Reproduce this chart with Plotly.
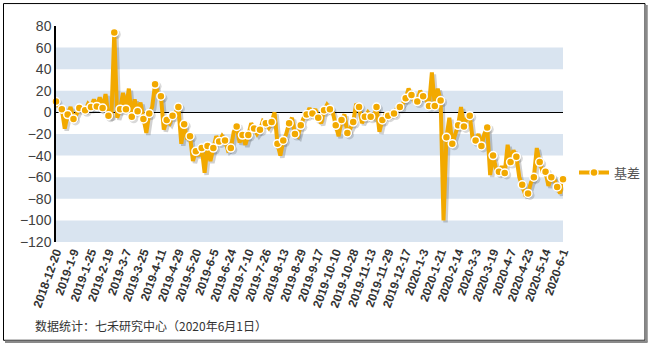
import plotly.graph_objects as go

# 基差 sampled every other trading day (2018-12-20 .. 2020-6-1);
# every second sample carries a marker.
basis = [
    10, 5, 3, -15, -2, 5, -6, -2, 4, 3, 2, 8, 5, 12, 5.5, 14, 4, 17, -3, -5,
    74, -5, 3, 18, 3, 22, -4, 12, 1, 9, -6, -19, -1, 5, 26, 18, 15, -16, -7, -10,
    -3, 0, 5, -29, -11, -25, -22, -45, -36, -40, -33, -56, -31, -45, -33, -22, -27, -22, -26, -35,
    -33, -18, -13, -28, -21, -30, -21, -10, -15, -20, -16, -8, -10, -14, -9, 0, -29, -40, -26, -20,
    -10, -5, -20, -22, -12, -5, -2, 4, -1, 3, -5, -10, 2, 7, 3, 0, -12, -22, -7, -2,
    -19, -15, -9, 8, 5, -10, -4, 0, -4, -5, 5, -18, -7, -2, -3, 0, -1, 4, 5, 8,
    13, 22, 16, 10, 10, 20, 15, 12, 6, 37, 6, 22, 11, -100, -23, -5, -29, -20, -12, 5,
    -13, -5, -3, -25, -26, -20, -31, -20, -14, -58, -40, -52, -55, -50, -56, -30, -46, -35, -41, -60,
    -67, -76, -75, -65, -60, -33, -46, -55, -55, -68, -60, -62, -69, -75, -62,
]

tick_labels = [
    "2018-12-20", "2019-1-9", "2019-1-25", "2019-2-19", "2019-3-7", "2019-3-25",
    "2019-4-11", "2019-4-29", "2019-5-20", "2019-6-5", "2019-6-24", "2019-7-10",
    "2019-7-26", "2019-8-13", "2019-8-29", "2019-9-17", "2019-10-10", "2019-10-28",
    "2019-11-13", "2019-11-29", "2019-12-17", "2020-1-3", "2020-1-21", "2020-2-14",
    "2020-3-3", "2020-3-19", "2020-4-7", "2020-4-23", "2020-5-14", "2020-6-1",
]

band_ranges = [(40, 60), (0, 20), (-40, -20), (-80, -60), (-120, -100)]

STEP = 2          # trading days between samples
LABEL_EVERY = 12  # trading days between axis labels
ORANGE = "#F2A900"

W, H = 650, 347
L, R, T, B = 56, 563, 26, 242.5
Y_MIN, Y_MAX = -120, 80

day_idx = [i * STEP for i in range(len(basis))]
last_day = day_idx[-1]
tick_pos = list(range(0, last_day + 1, LABEL_EVERY))

mark_x = day_idx[::2]
mark_y = basis[::2]

# soft drop shadow: the same series nudged by a couple of screen pixels
sx = 2 * last_day / (R - L)
sy = 2 * (Y_MAX - Y_MIN) / (B - T)


def px_x(p):
    return (p - L) / (R - L)


def px_y(p):
    return (B - p) / (B - T)


fig = go.Figure()

fig.add_trace(go.Scatter(
    x=[d + sx for d in day_idx], y=[v - sy for v in basis], mode="lines",
    line=dict(color="rgba(0,0,0,0.18)", width=4.5), hoverinfo="skip",
    showlegend=False, cliponaxis=False,
))
fig.add_trace(go.Scatter(
    x=[d + sx for d in mark_x], y=[v - sy for v in mark_y], mode="markers",
    marker=dict(color="rgba(0,0,0,0.15)", size=9), hoverinfo="skip",
    showlegend=False, cliponaxis=False,
))
fig.add_trace(go.Scatter(
    x=day_idx, y=basis, mode="lines", name="基差",
    line=dict(color=ORANGE, width=4), showlegend=False, cliponaxis=False,
))
fig.add_trace(go.Scatter(
    x=mark_x, y=mark_y, mode="markers", name="基差",
    marker=dict(color=ORANGE, size=8, line=dict(color="white", width=1.5)),
    showlegend=False, cliponaxis=False,
))
# legend entry (line + marker)
fig.add_trace(go.Scatter(
    x=[None], y=[None], mode="lines+markers", name="基差",
    line=dict(color=ORANGE, width=4),
    marker=dict(color=ORANGE, size=8, line=dict(color="white", width=1.5)),
))

shapes = []
# outer frame with a grey shadow on the right and bottom
shapes.append(dict(type="rect", xref="paper", yref="paper", layer="below",
                   x0=px_x(3.5), x1=px_x(645), y0=px_y(341), y1=px_y(3.5),
                   line=dict(color="black", width=1)))
shapes.append(dict(type="line", xref="paper", yref="paper", layer="below",
                   x0=px_x(646.5), x1=px_x(646.5), y0=px_y(343), y1=px_y(5),
                   line=dict(color="#8a8a8a", width=2.5)))
shapes.append(dict(type="line", xref="paper", yref="paper", layer="below",
                   x0=px_x(5), x1=px_x(647.5), y0=px_y(342.5), y1=px_y(342.5),
                   line=dict(color="#8a8a8a", width=2.5)))
for lo, hi in band_ranges:
    shapes.append(dict(type="rect", xref="x domain", yref="y", layer="below",
                       x0=0, x1=1, y0=lo, y1=hi,
                       fillcolor="#D9E4F0", line=dict(width=0)))

fig.update_layout(
    width=W, height=H,
    margin=dict(l=L, r=W - R, t=T, b=H - B, pad=0, autoexpand=False),
    paper_bgcolor="white", plot_bgcolor="rgba(0,0,0,0)",
    shapes=shapes,
    font=dict(family="Liberation Sans, Arial, sans-serif", color="#404040"),
    xaxis=dict(
        range=[0, last_day], tickmode="array", tickvals=tick_pos, ticktext=tick_labels,
        tickangle=-70, showgrid=False, zeroline=False, showline=False, ticks="",
        tickfont=dict(size=12, color="#333333", weight="bold"), automargin=False,
    ),
    yaxis=dict(
        range=[Y_MIN, Y_MAX], dtick=20, tick0=0, showgrid=False,
        zeroline=True, zerolinecolor="black", zerolinewidth=1,
        showline=True, linecolor="black", linewidth=1.5, ticks="",
        tickfont=dict(size=14, color="#404040"), automargin=False,
    ),
    legend=dict(
        x=px_x(574), y=px_y(173), xanchor="left", yanchor="middle",
        bgcolor="rgba(0,0,0,0)", font=dict(size=13, color="#555555",
                                           family="Noto Sans CJK SC"),
    ),
    annotations=[dict(
        text="数据统计：七禾研究中心（2020年6月1日）", xref="paper", yref="paper",
        x=px_x(33), y=px_y(326), xanchor="left", yanchor="middle", showarrow=False,
        font=dict(size=12, color="#333333", family="Noto Sans CJK SC"),
    )],
)

fig.write_html("out.html")
